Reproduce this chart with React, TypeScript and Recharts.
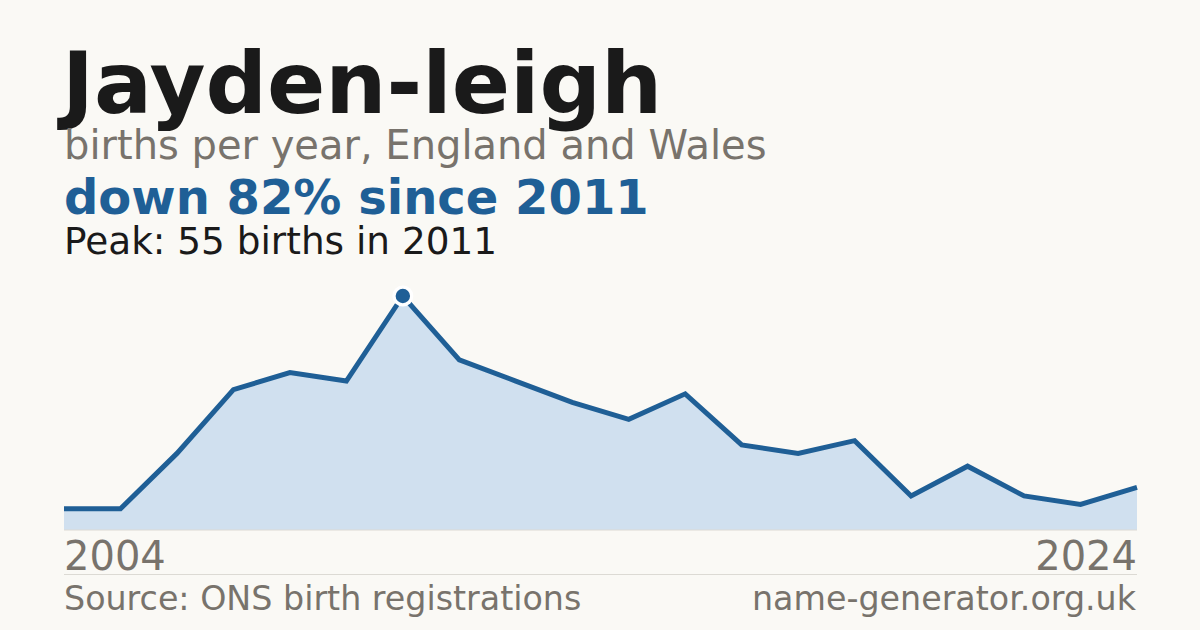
import React from "react";
import { AreaChart, Area, XAxis, YAxis } from "recharts";

const years = [2005, 2006, 2007, 2008, 2009, 2010, 2011, 2012, 2013, 2014, 2015, 2016, 2017, 2018, 2019, 2020, 2021, 2022, 2023, 2024];
const births = [5, 5, 18, 33, 37, 35, 55, 40, 35, 30, 26, 32, 20, 18, 21, 8, 15, 8, 6, 10];
const axisLabels = ["2004", "2024"];
const peakYear = 2011;
const yDomainMax = 60;

const title = "Jayden-leigh";
const subtitle = "births per year, England and Wales";
const headline = "down 82% since 2011";
const peakNote = "Peak: 55 births in 2011";
const sourceText = "Source: ONS birth registrations";
const siteText = "name-generator.org.uk";

const data = years.map((y, i) => ({ year: y, births: births[i] }));

const FONT = "'DejaVu Sans', sans-serif";
const BG = "#faf9f5";
const BLUE = "#1f5f96";
const GREY = "#78736c";

const EdgeTick = (props: any) => {
  const { x, y, payload } = props;
  const first = payload.value === years[0];
  return (
    <text
      x={x}
      y={y + 32}
      textAnchor={first ? "start" : "end"}
      fontFamily={FONT}
      fontSize={40}
      fill={GREY}
    >
      {first ? axisLabels[0] : axisLabels[1]}
    </text>
  );
};

const PeakDot = (props: any) => {
  const { cx, cy, payload, index } = props;
  if (!payload || payload.year !== peakYear) return <g key={`d${index}`} />;
  return (
    <g key={`d${index}`}>
      <circle cx={cx} cy={cy} r={10.5} fill="#ffffff" />
      <circle cx={cx} cy={cy} r={7.2} fill={BLUE} />
    </g>
  );
};

export default function App() {
  return (
    <div style={{ position: "fixed", left: 0, top: 0, width: 1200, height: 630, background: BG, overflow: "hidden" }}>
      <div style={{ position: "absolute", left: 0, top: 0 }}>
        <AreaChart width={1200} height={630} data={data} margin={{ top: 274.7, right: 63, bottom: 0, left: 64 }}>
          <YAxis hide domain={[0, yDomainMax]} />
          <XAxis
            dataKey="year"
            ticks={[years[0], years[years.length - 1]]}
            interval={0}
            tick={<EdgeTick />}
            tickLine={false}
            axisLine={{ stroke: "#dcdad4", strokeWidth: 1 }}
            padding={{ left: 0, right: 0 }}
            height={100}
          />
          <Area
            type="linear"
            dataKey="births"
            stroke={BLUE}
            strokeWidth={5}
            fill="#d0e0ef"
            fillOpacity={1}
            dot={(p: any) => <PeakDot {...p} key={`pd${p.index}`} />}
            activeDot={false}
            isAnimationActive={false}
          />
        </AreaChart>
      </div>
      <svg width={1200} height={630} style={{ position: "absolute", left: 0, top: 0, pointerEvents: "none" }}>
        <text x={62} y={113} fontFamily={FONT} fontWeight="bold" fontSize={86} fill="#1a1a1a">{title}</text>
        <text x={64} y={159} fontFamily={FONT} fontSize={40} fill={GREY}>{subtitle}</text>
        <text x={64} y={214} fontFamily={FONT} fontWeight="bold" fontSize={48} fill={BLUE}>{headline}</text>
        <text x={64} y={254} fontFamily={FONT} fontSize={37.4} fill="#1a1a1a">{peakNote}</text>
        <line x1={64} x2={1137} y1={574.5} y2={574.5} stroke="#dcdad4" strokeWidth={1} />
        <text x={64} y={610} fontFamily={FONT} fontSize={33.3} fill={GREY}>{sourceText}</text>
        <text x={1136} y={610} textAnchor="end" fontFamily={FONT} fontSize={33.3} fill={GREY}>{siteText}</text>
      </svg>
    </div>
  );
}
